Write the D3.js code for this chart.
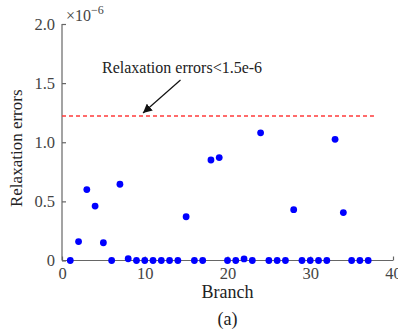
<!DOCTYPE html>
<html>
<head>
<meta charset="utf-8">
<script src="https://cdn.jsdelivr.net/npm/d3@7"></script>
<style>
  body { margin: 0; background: #fff; }
  svg text { font-family: 'Liberation Serif', 'Times New Roman', serif !important; }
</style>
</head>
<body>
<svg id="chart" width="398" height="333"></svg>
<script>
// branch numbers and relaxation errors (x 1e-6)
var branches = d3.range(1, 38);
var errors = [0, 0.16, 0.60, 0.46, 0.15, 0, 0.645, 0.015, 0, 0,
              0, 0, 0, 0, 0.37, 0, 0, 0.85, 0.87, 0,
              0, 0.013, 0, 1.08, 0, 0, 0, 0.43, 0, 0,
              0, 0, 1.025, 0.405, 0, 0, 0];
var xTicks = [0, 10, 20, 30, 40];
var yTicks = [0, 0.5, 1.0, 1.5, 2.0];
var threshold = 1.222;
var thresholdRange = [0, 37.7];
var annotation = 'Relaxation errors<1.5e-6';

var svg = d3.select('#chart');

var x = d3.scaleLinear().domain([0, 40]).range([62, 393]);
var y = d3.scaleLinear().domain([0, 2]).range([260.5, 24]);

var axisColor = '#666';
var textColor = '#444';

// y axis
var yAxis = svg.append('g')
    .attr('transform', 'translate(' + x(0) + ',0)')
    .call(d3.axisLeft(y).tickValues(yTicks).tickSize(-4).tickPadding(7)
        .tickFormat(function (d) { return d === 0 ? '0' : d3.format('.1f')(d); }));

// x axis
var xAxis = svg.append('g')
    .attr('transform', 'translate(0,' + y(0) + ')')
    .call(d3.axisBottom(x).tickValues(xTicks).tickSize(-4).tickPadding(7));

[yAxis, xAxis].forEach(function (g) {
    g.attr('font-family', null);
    g.select('.domain').attr('stroke', axisColor).attr('stroke-width', 1.2);
    g.selectAll('.tick line').attr('stroke', axisColor).attr('stroke-width', 1.2);
    g.selectAll('.tick text')
        .attr('fill', textColor)
        .style('font-size', '16.5px');
});
yAxis.select('.domain').attr('d', 'M0,' + y(2) + 'V' + y(0));
xAxis.select('.domain').attr('d', 'M' + x(0) + ',0H' + x(40));

// exponent label
var expo = svg.append('text')
    .attr('x', 66)
    .attr('y', 21)
    .attr('fill', textColor)
    .style('font-size', '16px');
expo.append('tspan').text('\u00d710');
expo.append('tspan').attr('dy', -7).style('font-size', '12px').text('\u22126');

// threshold line
svg.append('line')
    .attr('x1', x(thresholdRange[0]))
    .attr('x2', x(thresholdRange[1]))
    .attr('y1', y(threshold))
    .attr('y2', y(threshold))
    .attr('stroke', '#ff3b3b')
    .attr('stroke-width', 1.5)
    .attr('stroke-dasharray', '4,3');

// annotation with arrow
svg.append('defs').append('marker')
    .attr('id', 'arrow')
    .attr('viewBox', '0 0 10 10')
    .attr('refX', 10)
    .attr('refY', 5)
    .attr('markerWidth', 9)
    .attr('markerHeight', 9)
    .attr('markerUnits', 'userSpaceOnUse')
    .attr('orient', 'auto')
    .append('path')
    .attr('d', 'M0,0L10,5L0,10Z')
    .attr('fill', '#111');

svg.append('line')
    .attr('x1', 180.5)
    .attr('y1', 80)
    .attr('x2', 143)
    .attr('y2', 113)
    .attr('stroke', '#111')
    .attr('stroke-width', 1.2)
    .attr('marker-end', 'url(#arrow)');

svg.append('text')
    .attr('x', 102)
    .attr('y', 73)
    .attr('fill', '#222')
    .style('font-size', '16px')
    .text(annotation);

// points
svg.append('g')
    .selectAll('circle')
    .data(branches)
    .enter()
    .append('circle')
    .attr('cx', function (d) { return x(d); })
    .attr('cy', function (d, i) { return y(errors[i]); })
    .attr('r', 3.4)
    .attr('fill', '#0000ff');

// axis titles
svg.append('text')
    .attr('transform', 'translate(22,' + ((y(0) + y(2)) / 2 + 6) + ') rotate(-90)')
    .attr('text-anchor', 'middle')
    .attr('fill', '#222')
    .style('font-size', '17px')
    .text('Relaxation errors');

svg.append('text')
    .attr('x', (x(0) + x(40)) / 2)
    .attr('y', 298)
    .attr('text-anchor', 'middle')
    .attr('fill', '#222')
    .style('font-size', '18px')
    .text('Branch');

svg.append('text')
    .attr('x', (x(0) + x(40)) / 2)
    .attr('y', 325)
    .attr('text-anchor', 'middle')
    .attr('fill', '#222')
    .style('font-size', '18px')
    .text('(a)');
</script>
</body>
</html>
